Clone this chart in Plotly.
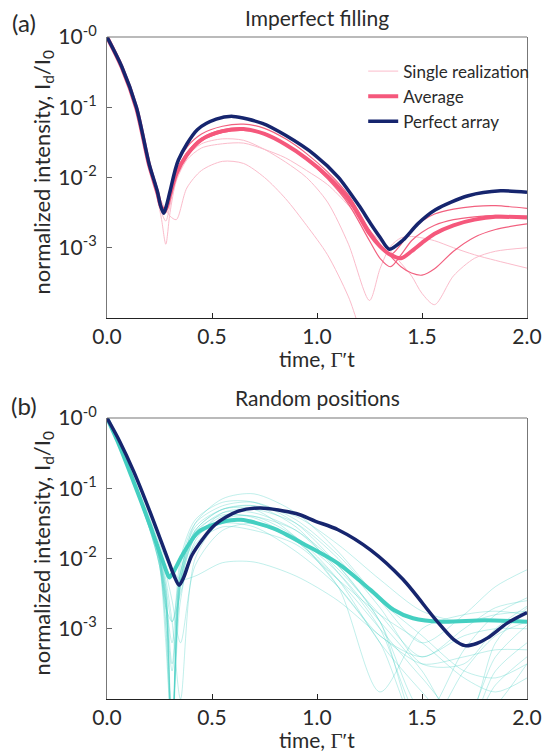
import plotly.graph_objects as go

# ---------------- data (log10 of normalized intensity) ----------------
# Panel (a): imperfect filling
a_perfect_t = [0, 0.07, 0.14, 0.2, 0.24, 0.255, 0.27, 0.285, 0.3, 0.34, 0.43, 0.52, 0.6, 0.74,
               0.85, 0.99, 1.1, 1.2, 1.254, 1.3, 1.344, 1.41, 1.48, 1.564, 1.72, 1.874, 2.0]
a_perfect_log = [0, -0.42, -1.0, -1.8, -2.2, -2.4, -2.51, -2.38, -2.2, -1.75, -1.32, -1.17, -1.13, -1.23,
                 -1.40, -1.68, -1.99, -2.4, -2.65, -2.85, -3.02, -2.89, -2.66, -2.46, -2.26, -2.19, -2.21]

a_t = [0, 0.07, 0.14, 0.2, 0.24, 0.26, 0.28, 0.3, 0.33, 0.38, 0.45, 0.55, 0.65, 0.75, 0.85,
       0.95, 1.05, 1.15, 1.25, 1.3, 1.35, 1.4, 1.45, 1.5, 1.56, 1.65, 1.75, 1.85, 2.0]
a_average_log = [0, -0.43, -1.02, -1.82, -2.22, -2.43, -2.45, -2.25, -1.95, -1.68, -1.46, -1.34, -1.31, -1.38, -1.53,
                 -1.73, -1.98, -2.3, -2.8, -2.98, -3.1, -3.15, -3.05, -2.93, -2.8, -2.68, -2.6, -2.56, -2.57]
# single realizations (stronger shade)
a_single_dark_log = [
    [0, -0.43, -1.03, -1.84, -2.25, -2.45, -2.5, -2.2, -1.85, -1.57, -1.38, -1.27, -1.24, -1.3, -1.45,
     -1.66, -1.92, -2.25, -2.75, -2.98, -3.1, -2.95, -2.75, -2.62, -2.52, -2.45, -2.41, -2.4, -2.44],
    [0, -0.43, -1.02, -1.82, -2.22, -2.42, -2.47, -2.25, -1.93, -1.65, -1.44, -1.32, -1.3, -1.37, -1.52,
     -1.74, -2.02, -2.38, -2.9, -3.15, -3.27, -3.1, -2.9, -2.78, -2.68, -2.6, -2.56, -2.54, -2.55],
    [0, -0.43, -1.03, -1.83, -2.23, -2.43, -2.47, -2.27, -1.97, -1.7, -1.48, -1.36, -1.33, -1.38, -1.52,
     -1.72, -2.0, -2.35, -2.75, -2.95, -3.12, -3.27, -3.36, -3.39, -3.3, -3.05, -2.85, -2.74, -2.66],
]
# single realizations (faint shade)
a_single_light_log = [
    [0, -0.44, -1.05, -1.85, -2.2, -2.35, -2.45, -2.55, -2.6, -2.15, -1.9, -1.77, -1.8, -2.0, -2.3,
     -2.68, -3.1, -3.7, -4.5, -4.6, -4.6, -4.6, -4.6, -4.6, -4.6, -4.6, -4.6, -4.6, -4.6],
    [0, -0.44, -1.04, -1.84, -2.3, -2.6, -2.95, -2.5, -2.05, -1.75, -1.58, -1.52, -1.51, -1.6, -1.72,
     -1.9, -2.1, -2.4, -2.75, -2.9, -3.05, -3.22, -3.4, -3.65, -3.81, -3.4, -3.15, -3.05, -3.0],
    [0, -0.43, -1.03, -1.83, -2.25, -2.5, -2.62, -2.4, -2.0, -1.7, -1.52, -1.45, -1.47, -1.6, -1.78,
     -2.0, -2.35, -2.95, -3.75, -3.3, -2.98, -2.86, -2.84, -2.86, -2.9, -3.0, -3.1, -3.18, -3.29],
]

# Panel (b): random positions
b_perfect_t = [0, 0.06, 0.127, 0.204, 0.282, 0.32, 0.343, 0.365, 0.405, 0.514, 0.622, 0.73, 0.9, 0.993,
               1.1, 1.256, 1.41, 1.565, 1.65, 1.705, 1.76, 1.813, 1.906, 2.0]
b_perfect_log = [0, -0.33, -0.76, -1.33, -1.95, -2.25, -2.38, -2.27, -1.95, -1.52, -1.33, -1.28, -1.36, -1.47,
                 -1.59, -1.88, -2.30, -2.87, -3.15, -3.24, -3.21, -3.13, -2.92, -2.77]
b_average_t = [0, 0.06, 0.127, 0.204, 0.266, 0.285, 0.297, 0.315, 0.359, 0.436, 0.56, 0.637, 0.792, 0.947,
               1.1, 1.256, 1.364, 1.457, 1.596, 1.797, 2.0]
b_average_log = [0, -0.40, -0.91, -1.52, -2.04, -2.2, -2.27, -2.2, -1.95, -1.62, -1.47, -1.45, -1.57, -1.81,
                 -2.07, -2.45, -2.73, -2.85, -2.90, -2.88, -2.90]
b_t = [0, 0.1, 0.2, 0.25, 0.28, 0.31, 0.35, 0.42, 0.55, 0.7, 0.9, 1.1, 1.3, 1.5, 1.7, 1.85, 2.0]
b_single_log = [
    [0, -0.72, -1.55, -2.1, -2.7, -4.5, -2.3, -1.5, -1.15, -1.08, -1.35, -1.9, -2.6, -3.2, -2.8, -2.4, -2.16],
    [0, -0.7, -1.5, -2.0, -2.5, -3.5, -2.2, -1.6, -1.3, -1.25, -1.55, -2.2, -3.0, -4.3, -3.3, -2.8, -2.56],
    [0, -0.68, -1.45, -1.95, -2.4, -2.9, -2.5, -1.75, -1.35, -1.3, -1.5, -2.0, -2.7, -3.5, -3.5, -3.0, -2.68],
    [0, -0.7, -1.5, -2.05, -3.0, -4.6, -2.4, -1.7, -1.4, -1.4, -1.6, -2.1, -2.9, -4.5, -4.5, -3.6, -3.2],
    [0, -0.66, -1.4, -1.8, -2.0, -2.15, -2.3, -2.25, -2.06, -2.05, -2.25, -2.6, -3.1, -3.5, -3.4, -3.3, -3.3],
    [0, -0.68, -1.45, -1.9, -2.2, -2.6, -3.2, -2.1, -1.6, -1.5, -1.7, -2.2, -2.9, -3.6, -4.5, -3.8, -3.4],
    [0, -0.72, -1.55, -2.1, -2.9, -4.5, -2.1, -1.5, -1.25, -1.2, -1.45, -1.95, -2.6, -3.1, -3.6, -3.7, -3.5],
    [0, -0.7, -1.5, -2.0, -2.6, -4.5, -2.4, -1.7, -1.45, -1.5, -1.75, -2.4, -3.9, -3.0, -2.8, -2.75, -2.8],
    [0, -0.71, -1.52, -2.05, -2.6, -3.2, -2.0, -1.45, -1.2, -1.2, -1.5, -2.1, -2.9, -4.2, -4.4, -3.2, -2.7],
    [0, -0.69, -1.47, -1.95, -2.4, -4.5, -2.3, -1.65, -1.35, -1.35, -1.6, -2.15, -2.8, -3.4, -3.0, -2.7, -2.6],
    [0, -0.7, -1.5, -2.0, -2.7, -2.9, -2.2, -1.6, -1.3, -1.3, -1.7, -2.4, -3.2, -4.5, -3.6, -3.1, -2.9],
    [0, -0.72, -1.56, -2.1, -3.2, -4.5, -2.6, -1.8, -1.55, -1.6, -1.8, -2.3, -2.8, -3.2, -3.7, -3.9, -3.7],
    [0, -0.68, -1.45, -1.9, -2.3, -2.9, -4.0, -2.0, -1.45, -1.4, -1.7, -2.3, -3.2, -3.9, -4.5, -4.1, -3.5],
    [0, -0.7, -1.5, -2.0, -2.6, -4.5, -2.2, -1.55, -1.3, -1.25, -1.4, -1.8, -2.3, -2.75, -2.9, -2.8, -2.75],
    [0, -0.7, -1.5, -2.0, -2.7, -3.6, -2.3, -1.7, -1.5, -1.55, -1.9, -2.4, -3.1, -3.4, -3.1, -3.0, -3.0],
    [0, -0.69, -1.48, -1.97, -2.5, -4.5, -2.35, -1.62, -1.38, -1.42, -1.75, -2.3, -3.0, -3.7, -4.3, -3.4, -2.95],
]

x_tickvals = [0, 0.5, 1.0, 1.5, 2.0]
x_ticktext = ["0.0", "0.5", "1.0", "1.5", "2.0"]
y_tickvals = [1, 0.1, 0.01, 0.001]
y_ticktext = ["10<sup>-0</sup>", "10<sup>-1</sup>", "10<sup>-2</sup>", "10<sup>-3</sup>"]

# ---------------- styling ----------------
FONT = "Lato, 'Open Sans', sans-serif"
TXT = "#2a2a2a"
NAVY = "#16256e"
PINK = "#f5587c"
PINK_DARK_THIN = "#f2607f"
PINK_LIGHT = "#fbbccb"
TEAL = "#44cfc1"
TEAL_LIGHT = "rgba(68,207,193,0.33)"


def tolin(vals):
    return [10 ** v for v in vals]


fig = go.Figure()

# panel (a)
for i, s in enumerate(a_single_light_log):
    fig.add_trace(go.Scatter(x=a_t, y=tolin(s), mode="lines", xaxis="x", yaxis="y",
                             line=dict(color=PINK_LIGHT, width=1, shape="spline", smoothing=0.8),
                             name="Single realization", legendgroup="single", showlegend=(i == 0)))
for s in a_single_dark_log:
    fig.add_trace(go.Scatter(x=a_t, y=tolin(s), mode="lines", xaxis="x", yaxis="y",
                             line=dict(color=PINK_DARK_THIN, width=1.2, shape="spline", smoothing=0.8),
                             legendgroup="single", showlegend=False))
fig.add_trace(go.Scatter(x=a_t, y=tolin(a_average_log), mode="lines", xaxis="x", yaxis="y",
                         line=dict(color=PINK, width=4, shape="spline", smoothing=0.8),
                         name="Average"))
fig.add_trace(go.Scatter(x=a_perfect_t, y=tolin(a_perfect_log), mode="lines", xaxis="x", yaxis="y",
                         line=dict(color=NAVY, width=3.5, shape="spline", smoothing=0.8),
                         name="Perfect array"))

# panel (b)
for s in b_single_log:
    fig.add_trace(go.Scatter(x=b_t, y=tolin(s), mode="lines", xaxis="x2", yaxis="y2",
                             line=dict(color=TEAL_LIGHT, width=1, shape="spline", smoothing=0.8),
                             showlegend=False))
fig.add_trace(go.Scatter(x=b_average_t, y=tolin(b_average_log), mode="lines", xaxis="x2", yaxis="y2",
                         line=dict(color=TEAL, width=4, shape="spline", smoothing=0.8),
                         showlegend=False))
fig.add_trace(go.Scatter(x=b_perfect_t, y=tolin(b_perfect_log), mode="lines", xaxis="x2", yaxis="y2",
                         line=dict(color=NAVY, width=3.5, shape="spline", smoothing=0.8),
                         showlegend=False))

xaxis_common = dict(range=[0, 2], tickvals=x_tickvals, ticktext=x_ticktext, ticks="inside",
                    ticklen=5, tickcolor="#222", showline=True, linecolor="#222", linewidth=1.2,
                    mirror=False, showgrid=False, zeroline=False, ticklabelstandoff=0,
                    tickfont=dict(family=FONT, size=21, color=TXT))
yaxis_common = dict(type="log", range=[-4, 0], tickvals=y_tickvals, ticktext=y_ticktext,
                    ticks="inside", ticklen=5, tickcolor="#666", showline=True, linecolor="#777",
                    linewidth=1.2, mirror=True, showgrid=False, zeroline=False,
                    tickfont=dict(family=FONT, size=21, color=TXT), ticklabelstandoff=5)

H = 662.0
fig.update_layout(
    width=554, height=753, autosize=False,
    margin=dict(l=107, r=17, t=37, b=54),
    paper_bgcolor="white", plot_bgcolor="white",
    font=dict(family=FONT, color=TXT),
    xaxis=dict(xaxis_common, anchor="y"),
    yaxis=dict(yaxis_common, domain=[(699 - 318) / H, 1], anchor="x"),
    xaxis2=dict(xaxis_common, anchor="y2"),
    yaxis2=dict(yaxis_common, domain=[0, 281 / H], anchor="x2"),
    legend=dict(x=0.61, y=0.975, xanchor="left", yanchor="top", bgcolor="rgba(0,0,0,0)",
                font=dict(family=FONT, size=17, color=TXT), tracegroupgap=0,
                itemwidth=30),
    showlegend=True,
)

# top frame lines (gray) for both panels
for yref in ["y domain", "y2 domain"]:
    xr = "x domain" if yref == "y domain" else "x2 domain"
    fig.add_shape(type="line", xref=xr, yref=yref, x0=0, x1=1, y0=1, y1=1,
                  line=dict(color="#777", width=1.2))

xtitle = 'time, <span style="font-family:Liberation Serif">Γ′</span>t'
ytitle = "normalized intensity, I<sub>d</sub>/I<sub>0</sub>"
anns = [
    dict(text="(a)", x=-0.197, y=1 + 15 / H, font=dict(family=FONT, size=24, color=TXT)),
    dict(text="Imperfect filling", x=0.5, y=1 + 20 / H, font=dict(family=FONT, size=21, color=TXT)),
    dict(text=xtitle, x=0.5, y=(699 - 359) / H, font=dict(family=FONT, size=21, color=TXT)),
    dict(text="(b)", x=-0.197, y=(699 - 405) / H, font=dict(family=FONT, size=24, color=TXT)),
    dict(text="Random positions", x=0.5, y=(699 - 398) / H, font=dict(family=FONT, size=21, color=TXT)),
    dict(text=xtitle, x=0.5, y=(699 - 740) / H, font=dict(family=FONT, size=21, color=TXT)),
    dict(text=ytitle, x=(41 - 107) / 430, y=(699 - 173) / H, textangle=-90, font=dict(family=FONT, size=22, color=TXT)),
    dict(text=ytitle, x=(41 - 107) / 430, y=(699 - 554) / H, textangle=-90, font=dict(family=FONT, size=22, color=TXT)),
]
for a in anns:
    fig.add_annotation(xref="paper", yref="paper", showarrow=False, xanchor="center", yanchor="middle", **a)

fig.write_html("out.html", config={"displayModeBar": False},
               post_script="document.body.style.margin='0px';")
